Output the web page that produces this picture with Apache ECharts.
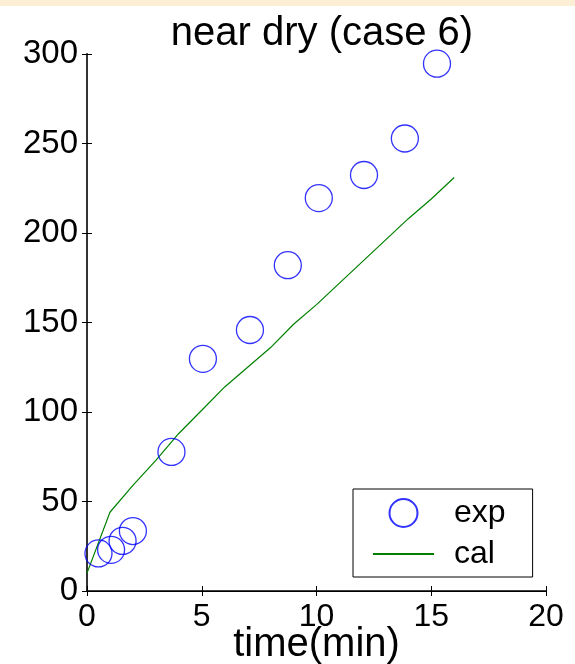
<!DOCTYPE html>
<html>
<head>
<meta charset="utf-8">
<script src="https://cdn.jsdelivr.net/npm/echarts@6/dist/echarts.min.js"></script>
<style>
  html, body { margin: 0; padding: 0; background: #fff; }
  #main { width: 575px; height: 664px; }
</style>
</head>
<body>
<div id="main"></div>
<script>
// measured points (exp) and model curve (cal)
var expTime = [0.5, 1.05, 1.55, 2.0, 3.68, 5.05, 7.1, 8.75, 10.1, 12.07, 13.85, 15.25];
var expVal = [21, 23, 28, 33.5, 77.7, 129.7, 145.8, 182, 219.5, 232.4, 252.8, 294.6];
var calTime = [0, 1, 2, 3, 4, 5, 6, 7, 8, 9, 10, 11, 12, 13, 14, 15, 16];
var calVal = [10, 44, 59, 73, 88, 101, 114, 125, 136, 149, 160, 172, 184, 196, 208, 219, 231];
var xTicks = { min: 0, max: 20, interval: 5 };
var yTicks = { min: 0, max: 300, interval: 50 };

function pairs(xs, ys) {
  var out = [];
  for (var i = 0; i < xs.length; i++) {
    out.push([xs[i], ys[i]]);
  }
  return out;
}

var chart = echarts.init(document.getElementById('main'));
var font = 'Liberation Sans, Arial, Helvetica, sans-serif';
var clear = 'rgba(0,0,0,0)';

var option = {
  backgroundColor: '#ffffff',
  animation: false,
  graphic: [{
    type: 'rect',
    shape: { x: 0, y: 0, width: 575, height: 6 },
    style: { fill: '#fcefd5' }
  }],
  title: {
    text: 'near dry (case 6)',
    left: 317,
    textAlign: 'center',
    top: 9,
    textStyle: { fontFamily: font, fontSize: 40, fontWeight: 'normal', color: '#000' }
  },
  grid: { left: 87, top: 54, width: 459, height: 537, outerBoundsMode: 'none' },
  legend: {
    orient: 'vertical',
    left: 353,
    top: 489,
    itemWidth: 61,
    itemHeight: 28,
    itemGap: 9,
    padding: [8, 27, 7, 19],
    borderColor: '#000',
    borderWidth: 1,
    backgroundColor: '#fff',
    textStyle: { fontFamily: font, fontSize: 32, color: '#000', padding: [0, 0, 0, 15] },
    data: [
      'exp',
      { name: 'cal', itemStyle: { color: clear, borderColor: clear, borderWidth: 0 } }
    ]
  },
  xAxis: [{
    type: 'value',
    min: xTicks.min, max: xTicks.max, interval: xTicks.interval,
    name: 'time(min)',
    nameLocation: 'middle',
    nameGap: 34,
    nameMoveOverlap: false,
    nameTextStyle: { fontFamily: font, fontSize: 40, color: '#000' },
    axisLine: { lineStyle: { color: '#000', width: 1 } },
    axisTick: { inside: true, length: 5, lineStyle: { color: '#000' } },
    axisLabel: { fontFamily: font, fontSize: 32, color: '#000', margin: 10 },
    splitLine: { show: false }
  }, {
    type: 'value', position: 'top',
    min: xTicks.min, max: xTicks.max, interval: xTicks.interval,
    axisLine: { lineStyle: { color: '#000', width: 1.5 } },
    axisTick: { inside: true, length: 5, lineStyle: { color: '#000' } },
    axisLabel: { show: false },
    splitLine: { show: false }
  }],
  yAxis: [{
    type: 'value',
    min: yTicks.min, max: yTicks.max, interval: yTicks.interval,
    axisLine: { show: true, lineStyle: { color: '#000', width: 1 } },
    axisTick: { show: true, inside: true, length: 5, lineStyle: { color: '#000' } },
    axisLabel: { fontFamily: font, fontSize: 33, color: '#000', margin: 9 },
    splitLine: { show: false }
  }, {
    type: 'value', position: 'right',
    min: yTicks.min, max: yTicks.max, interval: yTicks.interval,
    axisLine: { show: true, lineStyle: { color: '#333', width: 2 } },
    axisTick: { show: true, inside: true, length: 5, lineStyle: { color: '#000' } },
    axisLabel: { show: false },
    splitLine: { show: false }
  }],
  series: [{
    name: 'exp',
    type: 'scatter',
    symbol: 'circle',
    symbolSize: 27,
    symbolKeepAspect: true,
    itemStyle: { color: clear, borderColor: '#0000ff', borderWidth: 1.3 },
    data: pairs(expTime, expVal),
    z: 3
  }, {
    name: 'cal',
    type: 'line',
    symbol: 'none',
    lineStyle: { color: '#008000', width: 1.2 },
    itemStyle: { color: clear, borderColor: clear, borderWidth: 0 },
    data: pairs(calTime, calVal),
    z: 2
  }]
};

chart.setOption(option);
</script>
</body>
</html>
